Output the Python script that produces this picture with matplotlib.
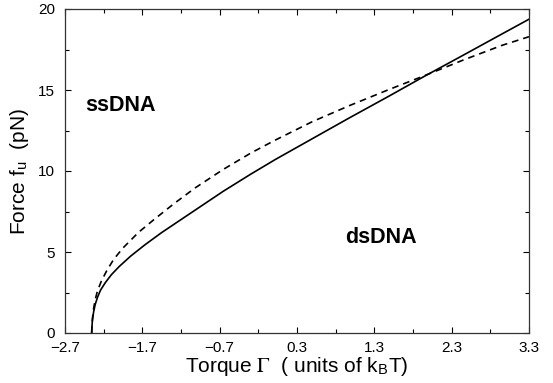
import matplotlib
matplotlib.use("Agg")
import matplotlib.pyplot as plt
from matplotlib.ticker import MultipleLocator, FixedLocator

plt.rcParams['font.family'] = ['Liberation Sans', 'DejaVu Sans']
plt.rcParams['mathtext.fontset'] = 'stix'

# Solid curve (torque, force)
solid_torque = [-2.355, -2.352, -2.345, -2.33, -2.31, -2.28, -2.24, -2.18, -2.1, -2.0,
                -1.85, -1.665, -1.45, -1.2, -0.95, -0.653, -0.3, 0.016, 0.5, 0.985,
                1.5, 1.93, 2.45, 2.947, 3.3]
solid_force = [0.0, 0.35, 0.8, 1.3, 1.75, 2.2, 2.65, 3.1, 3.6, 4.1,
               4.75, 5.45, 6.2, 7.0, 7.8, 8.75, 9.8, 10.7, 12.0, 13.3,
               14.65, 15.8, 17.15, 18.45, 19.37]

# Dashed curve (torque, force)
dash_torque = [-2.355, -2.352, -2.345, -2.33, -2.31, -2.28, -2.23, -2.16, -2.07, -1.95,
               -1.752, -1.55, -1.3, -1.019, -0.653, -0.3, 0.016, 0.5, 0.985, 1.5,
               1.93, 2.45, 2.947, 3.3]
dash_force = [0.0, 0.4, 0.9, 1.5, 2.05, 2.6, 3.2, 3.85, 4.55, 5.25,
              6.2, 7.0, 7.95, 8.95, 10.1, 11.1, 11.9, 13.05, 14.05, 15.05,
              15.85, 16.85, 17.75, 18.29]

xticks = [-2.7, -1.7, -0.7, 0.3, 1.3, 2.3, 3.3]
xticklabels = ['\u22122.7', '\u22121.7', '\u22120.7', '0.3', '1.3', '2.3', '3.3']
yticks = [0, 5, 10, 15, 20]

fig = plt.figure(figsize=(5.53, 3.83), dpi=100)
ax = fig.add_axes([65/553, 1 - 333/383, 464/553, 324/383])

ax.plot(solid_torque, solid_force, color='black', lw=1.2, solid_joinstyle='round')
ax.plot(dash_torque, dash_force, color='black', lw=1.2, dashes=(4, 3))

ax.set_xlim(-2.7, 3.3)
ax.set_ylim(0, 20)
ax.xaxis.set_major_locator(FixedLocator(xticks))
ax.set_xticklabels(xticklabels)
ax.xaxis.set_minor_locator(FixedLocator([t + 0.5 for t in xticks[:-1]]))
ax.set_yticks(yticks)
ax.yaxis.set_minor_locator(MultipleLocator(2.5))
ax.tick_params(which='both', direction='in', top=True, right=True, labelsize=11, width=0.8)
ax.tick_params(axis='x', pad=6)
ax.tick_params(axis='y', pad=7)
ax.tick_params(which='major', length=4)
ax.tick_params(which='minor', length=3)
for s in ax.spines.values():
    s.set_linewidth(0.9)
    s.set_color('#333333')

ax.set_xlabel('Torque $\\Gamma$  ( units of k$_\\mathregular{B}$T)', fontsize=15, labelpad=0)
ax.set_ylabel('Force f$_\\mathregular{u}$  (pN)', fontsize=15, labelpad=5)

ax.text(-1.98, 14.07, 'ssDNA', fontsize=15.5, fontweight='bold', ha='center', va='center')
ax.text(1.38, 5.89, 'dsDNA', fontsize=15.5, fontweight='bold', ha='center', va='center')

fig.savefig('out.png', dpi=100)
